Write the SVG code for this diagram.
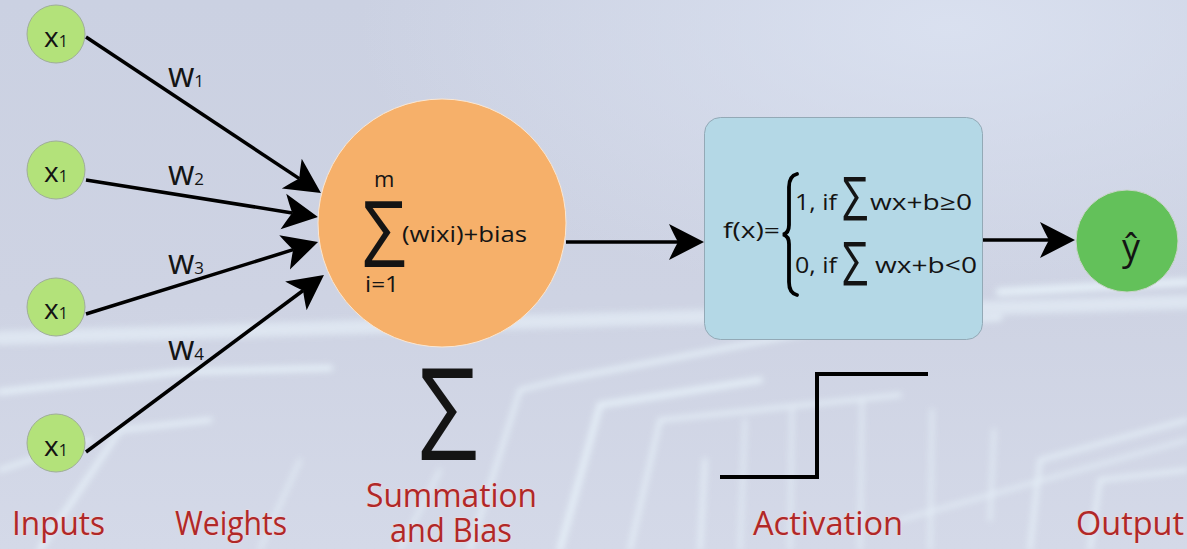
<svg xmlns="http://www.w3.org/2000/svg" width="1187" height="549" viewBox="0 0 1187 549">
  <defs>
    <linearGradient id="bgGrad" x1="0" y1="0" x2="0" y2="1">
      <stop offset="0" stop-color="#cbd1e2"/>
      <stop offset="0.55" stop-color="#ced3e3"/>
      <stop offset="1" stop-color="#d4d9e8"/>
    </linearGradient>
    <radialGradient id="glow" cx="0.8" cy="0.05" r="0.5">
      <stop offset="0" stop-color="#dbe2f1" stop-opacity="0.9"/>
      <stop offset="1" stop-color="#dbe2f1" stop-opacity="0"/>
    </radialGradient>
    <filter id="soft" x="-5%" y="-5%" width="110%" height="110%">
      <feGaussianBlur stdDeviation="3"/>
    </filter>
    <marker id="head" viewBox="-10 -20 40 40" markerWidth="40" markerHeight="40"
            refX="0" refY="0" orient="auto" markerUnits="userSpaceOnUse">
      <path d="M26,0 L-9,-18 Q-4,-7 0,0 Q-4,7 -9,18 Z" fill="#000"/>
    </marker>
    <style>
      .in { fill: #b3e27a; stroke: #9fae98; stroke-width: 1; }
      .lbl { font-family: "Open Sans", "Liberation Sans", sans-serif; fill: #141414; }
      .cap { font-family: "Open Sans", "Liberation Sans", sans-serif; font-size: 32px; fill: #b02828;
             stroke: #f0d8dc; stroke-width: 1.2px; paint-order: stroke; }
      .edge { stroke: #000; stroke-width: 3.5; fill: none; marker-end: url(#head); }
      .trace { fill: none; stroke: #eefaff; stroke-linecap: round; }
    </style>
  </defs>

  <!-- backdrop: soft circuit-board texture -->
  <g id="backdrop">
    <rect width="1187" height="549" fill="url(#bgGrad)"/>
    <rect width="1187" height="549" fill="url(#glow)"/>
    <g filter="url(#soft)" opacity="0.7">
      <path class="trace" stroke-width="14" stroke="#e4e0f6" stroke-opacity="0.7" d="M0,338 L1187,302"/>
      <path class="trace" stroke-width="6" d="M0,392 L180,372 L330,368"/>
      <path class="trace" stroke-width="5" d="M40,549 L120,430 L210,420"/>
      <path class="trace" stroke-width="4" d="M0,470 L90,440"/>
      <path class="trace" stroke-width="5" d="M560,380 L820,330 L1000,318"/>
      <path class="trace" stroke-width="6" d="M560,549 L600,405 L760,380"/>
      <path class="trace" stroke-width="4" d="M630,549 L660,420 L900,395"/>
      <path class="trace" stroke-width="4" d="M700,549 L705,460"/>
      <path class="trace" stroke-width="3" d="M740,549 L745,420"/>
      <path class="trace" stroke-width="3" d="M790,549 L792,410"/>
      <path class="trace" stroke-width="3" d="M860,549 L862,400"/>
      <path class="trace" stroke-width="3" d="M930,549 L932,410"/>
      <path class="trace" stroke-width="3" d="M990,520 L994,430"/>
      <path class="trace" stroke-width="4" d="M1030,549 L1040,460 L1187,420"/>
      <path class="trace" stroke-width="4" d="M1090,549 L1100,480 L1187,470"/>
      <path class="trace" stroke-width="3" d="M900,520 L1187,440"/>
      <path class="trace" stroke-width="4" d="M470,549 L520,390 L560,380"/>
      <path class="trace" stroke-width="3" d="M400,549 L440,470"/>
      <path class="trace" stroke-width="3" d="M260,549 L300,460"/>
      <path class="trace" stroke-width="8" stroke="#e8e4f8" d="M1000,292 L1187,282"/>
    </g>
  </g>

  <!-- connectors -->
  <g id="connectors">
    <line class="edge" x1="86" y1="37" x2="299.3" y2="178.6"/>
    <line class="edge" x1="86" y1="180" x2="292.3" y2="212.9"/>
    <line class="edge" x1="86" y1="314" x2="293.2" y2="249.7"/>
    <line class="edge" x1="86" y1="452" x2="303.1" y2="290.5"/>
    <line class="edge" x1="566" y1="242" x2="678" y2="242"/>
    <line class="edge" x1="983" y1="240" x2="1049" y2="240"/>
  </g>

  <!-- weight labels -->
  <g id="weights" class="lbl">
    <text x="168" y="87" font-size="34">w<tspan font-size="17">1</tspan></text>
    <text x="168" y="185" font-size="34">w<tspan font-size="17">2</tspan></text>
    <text x="168" y="274" font-size="34">w<tspan font-size="17">3</tspan></text>
    <text x="168" y="360" font-size="34">w<tspan font-size="17">4</tspan></text>
  </g>

  <!-- input nodes -->
  <g id="input1">
    <circle class="in" cx="56" cy="34" r="29"/>
    <text class="lbl" x="56" y="47" font-size="28" text-anchor="middle">x<tspan font-size="16">1</tspan></text>
  </g>
  <g id="input2">
    <circle class="in" cx="56" cy="170" r="29"/>
    <text class="lbl" x="56" y="182" font-size="28" text-anchor="middle">x<tspan font-size="16">1</tspan></text>
  </g>
  <g id="input3">
    <circle class="in" cx="56" cy="307" r="29"/>
    <text class="lbl" x="56" y="319" font-size="28" text-anchor="middle">x<tspan font-size="16">1</tspan></text>
  </g>
  <g id="input4">
    <circle class="in" cx="56" cy="443" r="29"/>
    <text class="lbl" x="56" y="456" font-size="28" text-anchor="middle">x<tspan font-size="16">1</tspan></text>
  </g>

  <!-- summation node -->
  <g id="summation">
    <circle cx="442" cy="223" r="124" fill="#f6b06a" stroke="#fbe7d2" stroke-width="1"/>
    <text class="lbl" x="374" y="187" font-size="22">m</text>
    <text class="lbl" x="362" y="267" font-size="91" textLength="44" lengthAdjust="spacingAndGlyphs">Σ</text>
    <text class="lbl" x="402" y="242" font-size="22" textLength="125" lengthAdjust="spacingAndGlyphs">(wixi)+bias</text>
    <text class="lbl" x="365" y="292" font-size="22" textLength="34" lengthAdjust="spacingAndGlyphs">i=1</text>
  </g>

  <!-- activation node -->
  <g id="activation">
    <rect x="704.5" y="117.5" width="278" height="222" rx="16" fill="#b4d8e6" stroke="#93a9b6" stroke-width="1"/>
    <text class="lbl" x="723" y="238" font-size="22" textLength="57" lengthAdjust="spacingAndGlyphs">f(x)=</text>
    <path d="M797,174 Q789,176 789,187 L789,225 Q789,233 783,234.5 Q789,236 789,244 L789,282 Q789,293 797,295"
          fill="none" stroke="#000" stroke-width="3.8" stroke-linecap="round"/>
    <text class="lbl" x="795" y="210" font-size="22" textLength="42" lengthAdjust="spacingAndGlyphs">1, if</text>
    <text class="lbl" x="842" y="220" font-size="60" textLength="26" lengthAdjust="spacingAndGlyphs">Σ</text>
    <text class="lbl" x="870" y="210" font-size="22" textLength="102" lengthAdjust="spacingAndGlyphs">wx+b≥0</text>
    <text class="lbl" x="795" y="273" font-size="22" textLength="42" lengthAdjust="spacingAndGlyphs">0, if</text>
    <text class="lbl" x="842" y="285" font-size="60" textLength="26" lengthAdjust="spacingAndGlyphs">Σ</text>
    <text class="lbl" x="875" y="273" font-size="22" textLength="102" lengthAdjust="spacingAndGlyphs">wx+b&lt;0</text>
  </g>

  <!-- output node -->
  <g id="output">
    <circle cx="1127" cy="241" r="51" fill="#63c15a" stroke="#c9d4c9" stroke-width="1"/>
    <text class="lbl" x="1131" y="260" font-size="36" text-anchor="middle">ŷ</text>
  </g>

  <!-- big sigma and step function icons -->
  <g id="sigma-icon">
    <text class="lbl" x="418" y="460" font-size="128" textLength="60" lengthAdjust="spacingAndGlyphs" fill="#000">Σ</text>
  </g>
  <g id="step-icon">
    <path d="M720,477 L817,477 L817,374 L928,374" fill="none" stroke="#000" stroke-width="4"/>
  </g>

  <!-- stage captions -->
  <g id="captions">
    <text class="cap" x="12" y="535" textLength="93" lengthAdjust="spacingAndGlyphs">Inputs</text>
    <text class="cap" x="175" y="535" textLength="112" lengthAdjust="spacingAndGlyphs">Weights</text>
    <text class="cap" x="366" y="507" font-size="34" textLength="171" lengthAdjust="spacingAndGlyphs">Summation</text>
    <text class="cap" x="390" y="542" font-size="34" textLength="122" lengthAdjust="spacingAndGlyphs">and Bias</text>
    <text class="cap" x="753" y="535" textLength="150" lengthAdjust="spacingAndGlyphs">Activation</text>
    <text class="cap" x="1076" y="535" textLength="108" lengthAdjust="spacingAndGlyphs">Output</text>
  </g>
</svg>
